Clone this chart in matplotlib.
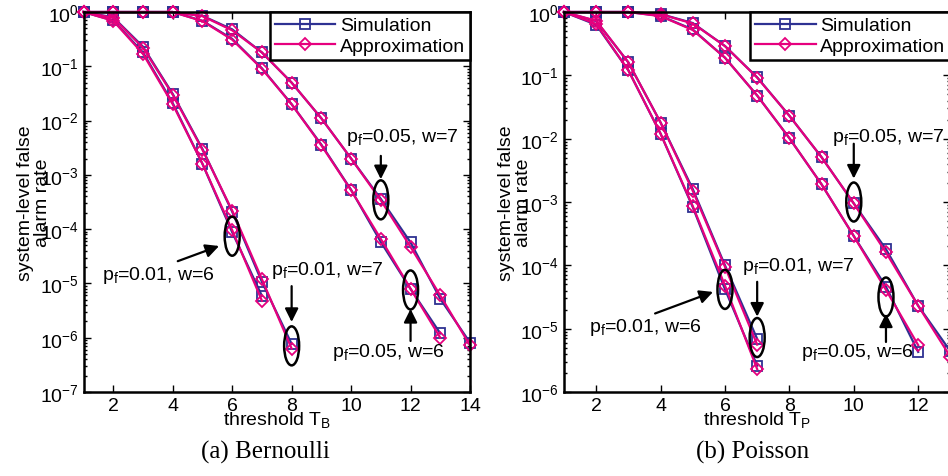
import numpy as np
import matplotlib.pyplot as plt
from matplotlib.patches import Ellipse
from matplotlib import transforms

plt.rcParams['font.family'] = 'Liberation Sans'
plt.rcParams['mathtext.fontset'] = 'custom'
plt.rcParams['mathtext.rm'] = 'Liberation Sans'
plt.rcParams['mathtext.it'] = 'Liberation Sans:italic'
plt.rcParams['mathtext.default'] = 'regular'
plt.rcParams['font.size'] = 14

# (a) Bernoulli
b_x_001_w6 = [1, 2, 3, 4, 5, 6, 7]
b_sim_001_w6 = [1, 0.70, 0.18, 0.021, 1.6e-3, 8.8e-5, 5.9e-6]
b_app_001_w6 = [1, 0.69, 0.17, 0.020, 1.6e-3, 9.6e-5, 4.8e-6]
b_x_001_w7 = [1, 2, 3, 4, 5, 6, 7, 8]
b_sim_001_w7 = [1, 0.80, 0.23, 0.031, 3.0e-3, 2.1e-4, 1.07e-5, 7.7e-7]
b_app_001_w7 = [1, 0.78, 0.22, 0.030, 2.9e-3, 2.2e-4, 1.2e-5, 6.3e-7]
b_x_005_w6 = [1, 2, 3, 4, 5, 6, 7, 8, 9, 10, 11, 12, 13]
b_sim_005_w6 = [1, 1, 1, 1, 0.69, 0.32, 0.092, 0.020, 3.6e-3, 5.3e-4, 5.8e-5, 7.9e-6, 1.2e-6]
b_app_005_w6 = [1, 1, 1, 1, 0.68, 0.31, 0.090, 0.020, 3.5e-3, 5.2e-4, 6.6e-5, 8.0e-6, 1.0e-6]
b_x_005_w7 = [1, 2, 3, 4, 5, 6, 7, 8, 9, 10, 11, 12, 13, 14]
b_sim_005_w7 = [1, 1, 1, 1, 0.85, 0.48, 0.18, 0.050, 0.011, 2.0e-3, 3.6e-4, 5.7e-5, 5.2e-6, 8.1e-7]
b_app_005_w7 = [1, 1, 1, 1, 0.84, 0.46, 0.18, 0.050, 0.011, 2.0e-3, 3.4e-4, 4.7e-5, 6.0e-6, 7.2e-7]

# (b) Poisson
p_x_001_w6 = [1, 2, 3, 4, 5, 6, 7]
p_sim_001_w6 = [1, 0.63, 0.12, 0.012, 8.3e-4, 4.2e-5, 2.6e-6]
p_app_001_w6 = [1, 0.65, 0.12, 0.012, 8.6e-4, 4.8e-5, 2.3e-6]
p_x_001_w7 = [1, 2, 3, 4, 5, 6, 7]
p_sim_001_w7 = [1, 0.72, 0.16, 0.018, 1.6e-3, 1.0e-4, 6.9e-6]
p_app_001_w7 = [1, 0.73, 0.16, 0.018, 1.5e-3, 9.5e-5, 5.6e-6]
p_x_005_w6 = [1, 2, 3, 4, 5, 6, 7, 8, 9, 10, 11, 12]
p_sim_005_w6 = [1, 1, 1, 0.87, 0.53, 0.19, 0.048, 0.0102, 1.9e-3, 2.9e-4, 4.6e-5, 4.3e-6]
p_app_005_w6 = [1, 1, 1, 0.86, 0.52, 0.19, 0.048, 0.0102, 1.9e-3, 2.9e-4, 4.1e-5, 5.5e-6]
p_x_005_w7 = [1, 2, 3, 4, 5, 6, 7, 8, 9, 10, 11, 12, 13]
p_sim_005_w7 = [1, 1, 1, 0.93, 0.67, 0.29, 0.093, 0.023, 5.1e-3, 9.5e-4, 1.8e-4, 2.3e-5, 4.4e-6]
p_app_005_w7 = [1, 1, 1, 0.92, 0.66, 0.29, 0.092, 0.023, 5.1e-3, 9.5e-4, 1.6e-4, 2.3e-5, 3.6e-6]

blue = '#2E3192'
pink = '#E6007E'

fig = plt.figure(figsize=(9.48, 4.77), dpi=100)
ax1 = fig.add_axes([0.0881, 0.1761, 0.4077, 0.7966])
ax2 = fig.add_axes([0.5949, 0.1761, 0.4076, 0.7966])


def draw_curves(ax, curves):
    for i, (x, sim, app) in enumerate(curves):
        ax.semilogy(x, sim, '-s', color=blue, mfc='none', ms=7, mew=1.3, lw=1.6,
                    clip_on=False, label='Simulation' if i == 0 else None)
    for i, (x, sim, app) in enumerate(curves):
        ax.semilogy(x, app, '-D', color=pink, mfc='none', ms=6, mew=1.3, lw=1.6,
                    clip_on=False, label='Approximation' if i == 0 else None)


def style(ax, xmax, ymin, xticks, sub):
    ax.set_xlim(1, xmax)
    ax.set_ylim(ymin, 1)
    ax.set_xticks(xticks)
    ax.tick_params(which='both', direction='in', top=True, right=True, width=1)
    ax.tick_params(which='major', length=5, labelsize=14)
    ax.tick_params(which='minor', length=2.5)
    for s in ax.spines.values():
        s.set_linewidth(1.8)
    ax.text(-0.128, 0.5, 'system-level false\nalarm rate', transform=ax.transAxes,
            rotation=90, ha='center', va='center', linespacing=1.0, fontsize=14)
    ax.text(0.5, -0.071, 'threshold $\\mathregular{T_%s}$' % sub, transform=ax.transAxes,
            ha='center', va='center', fontsize=14)
    leg = ax.legend(loc='upper right', borderaxespad=0, fancybox=False, framealpha=1,
                    edgecolor='k', handlelength=3.1, handletextpad=0.25,
                    labelspacing=0.15, borderpad=0.25, fontsize=14)
    leg.get_frame().set_linewidth(1.8)


def note(ax, text, tx, ty, a1, a2, e):
    ax.text(tx, ty, text, ha='center', va='center', fontsize=14)
    ax.annotate('', xy=a2, xytext=a1,
                arrowprops=dict(arrowstyle='-|>', color='k', lw=1.6,
                                mutation_scale=20, shrinkA=0, shrinkB=0))
    tr = fig.dpi_scale_trans + transforms.ScaledTranslation(e[0], e[1], ax.transData)
    ax.add_patch(Ellipse((0, 0), 0.15, 0.39, transform=tr, fill=False,
                         ec='k', lw=1.8, zorder=5, clip_on=False))


draw_curves(ax1, [(b_x_001_w6, b_sim_001_w6, b_app_001_w6),
                  (b_x_001_w7, b_sim_001_w7, b_app_001_w7),
                  (b_x_005_w6, b_sim_005_w6, b_app_005_w6),
                  (b_x_005_w7, b_sim_005_w7, b_app_005_w7)])
style(ax1, 14, 1e-7, [2, 4, 6, 8, 10, 12, 14], 'B')

note(ax1, '$\\mathregular{p_f}$=0.05, w=7', 11.73, 10**-2.30,
     (11, 10**-2.65), (11, 10**-3.08), (11, 10**-3.46))
note(ax1, '$\\mathregular{p_f}$=0.01, w=6', 3.53, 10**-4.83,
     (4.17, 10**-4.59), (5.56, 10**-4.31), (6, 10**-4.13))
note(ax1, '$\\mathregular{p_f}$=0.01, w=7', 9.22, 10**-4.75,
     (8, 10**-5.05), (8, 10**-5.71), (8, 10**-6.15))
note(ax1, '$\\mathregular{p_f}$=0.05, w=6', 11.25, 10**-6.26,
     (12, 10**-6.06), (12, 10**-5.47), (12, 10**-5.12))

draw_curves(ax2, [(p_x_001_w6, p_sim_001_w6, p_app_001_w6),
                  (p_x_001_w7, p_sim_001_w7, p_app_001_w7),
                  (p_x_005_w6, p_sim_005_w6, p_app_005_w6),
                  (p_x_005_w7, p_sim_005_w7, p_app_005_w7)])
style(ax2, 13, 1e-6, [2, 4, 6, 8, 10, 12], 'P')

note(ax2, '$\\mathregular{p_f}$=0.05, w=7', 11.08, 10**-1.97,
     (10, 10**-2.08), (10, 10**-2.63), (10, 10**-3.0))
note(ax2, '$\\mathregular{p_f}$=0.01, w=6', 3.52, 10**-4.97,
     (3.83, 10**-4.76), (5.63, 10**-4.42), (6, 10**-4.38))
note(ax2, '$\\mathregular{p_f}$=0.01, w=7', 8.27, 10**-4.01,
     (7, 10**-4.26), (7, 10**-4.81), (7, 10**-5.14))
note(ax2, '$\\mathregular{p_f}$=0.05, w=6', 10.13, 10**-5.36,
     (11, 10**-5.21), (11, 10**-4.76), (11, 10**-4.50))

fig.text(0.2795, 0.0524, '(a) Bernoulli', ha='center', va='center',
         family='Liberation Serif', fontsize=18)
fig.text(0.794, 0.0524, '(b) Poisson', ha='center', va='center',
         family='Liberation Serif', fontsize=18)

fig.savefig('out.png', dpi=100)
